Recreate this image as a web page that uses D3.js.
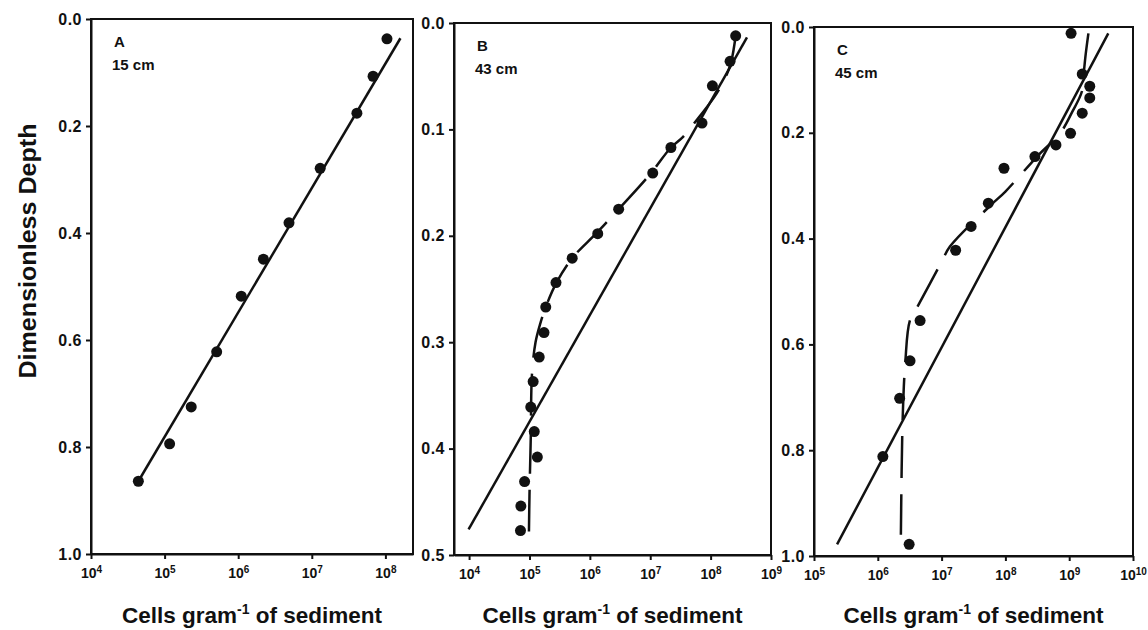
<!DOCTYPE html>
<html lang="en">
    <head>
        <meta charset="utf-8">
        <title>Cells per gram vs dimensionless depth</title>
        <script src="https://d3js.org/d3.v7.min.js"></script>
        <style>
            body { margin: 0; background: #fff; }
            text { font-family: "Liberation Sans", Arial, sans-serif; font-weight: bold; fill: #111; }
        </style>
    </head>
    <body>
        <script type="text/javascript">

            // panel A, 15 cm core
            var aCells = [1.05e8, 6.8e7, 4.1e7, 1.3e7, 4.9e6, 2.2e6, 1.1e6, 5.1e5, 2.3e5, 1.17e5, 4.4e4];
            var aDepth = [0.037, 0.107, 0.176, 0.279, 0.381, 0.449, 0.518, 0.622, 0.725, 0.794, 0.864];
            var aFitCells = [4.4e4, 1.6e8],
                aFitDepth = [0.864, 0.036];

            // panel B, 43 cm core
            var bCells = [2.6e8, 2.1e8, 1.07e8, 7.2e7, 2.2e7, 1.1e7, 3.0e6, 1.35e6, 5.1e5, 2.75e5,
                          1.86e5, 1.74e5, 1.45e5, 1.15e5, 1.05e5, 1.2e5, 1.35e5, 8.3e4, 7.2e4, 7.1e4];
            var bDepth = [0.012, 0.036, 0.059, 0.094, 0.117, 0.141, 0.175, 0.198, 0.221, 0.244,
                          0.267, 0.291, 0.314, 0.337, 0.361, 0.384, 0.408, 0.431, 0.454, 0.477];
            var bFitCells = [9.8e3, 4.0e8],
                bFitDepth = [0.476, 0.0135];
            var bCurveCells = [9.8e4, 1.0e5, 1.05e5, 1.1e5, 1.26e5, 1.5e5, 1.86e5, 2.8e5, 5.1e5, 1.26e6,
                               3.0e6, 1.0e7, 2.2e7, 3.5e7, 6.3e7, 1.17e8, 1.8e8, 2.2e8, 2.6e8];
            var bCurveDepth = [0.478, 0.444, 0.39, 0.33, 0.30, 0.283, 0.267, 0.244, 0.221, 0.198,
                               0.175, 0.142, 0.117, 0.107, 0.089, 0.069, 0.05, 0.036, 0.012];

            // panel C, 45 cm core
            var cCells = [1.07e9, 1.6e9, 2.1e9, 2.1e9, 1.6e9, 1.05e9, 6.2e8, 2.9e8, 9.5e7,
                          5.4e7, 2.9e7, 1.66e7, 4.6e6, 3.2e6, 2.2e6, 1.2e6, 3.1e6];
            var cDepth = [0.012, 0.089, 0.112, 0.134, 0.163, 0.201, 0.223, 0.245, 0.267,
                          0.333, 0.377, 0.422, 0.555, 0.631, 0.702, 0.812, 0.978];
            var cFitCells = [2.3e5, 4.1e9],
                cFitDepth = [0.978, 0.012];
            var cCurveCells = [2.0e9, 1.82e9, 1.7e9, 1.58e9, 1.12e9, 7.2e8, 3.3e8, 1.0e8, 6.0e7,
                               1.35e7, 1.0e7, 4.4e6, 3.2e6, 2.7e6, 2.45e6, 2.3e6];
            var cCurveDepth = [0.012, 0.05, 0.084, 0.122, 0.16, 0.201, 0.242, 0.311, 0.336,
                               0.415, 0.444, 0.524, 0.554, 0.633, 0.743, 0.96];

            var panels = [
                { letter: "A", core: "15 cm", left: 91, right: 413, top: 19, bottom: 554,
                  xDomain: [1e4, Math.pow(10, 8.375)], xPowers: [4, 5, 6, 7, 8],
                  yMax: 1, yTicks: [0, 0.2, 0.4, 0.6, 0.8, 1.0],
                  cells: aCells, depth: aDepth, fitCells: aFitCells, fitDepth: aFitDepth },
                { letter: "B", core: "43 cm", left: 454, right: 771, top: 23, bottom: 555,
                  xDomain: [Math.pow(10, 3.75), 1e9], xPowers: [4, 5, 6, 7, 8, 9],
                  yMax: 0.5, yTicks: [0, 0.1, 0.2, 0.3, 0.4, 0.5],
                  cells: bCells, depth: bDepth, fitCells: bFitCells, fitDepth: bFitDepth,
                  curveCells: bCurveCells, curveDepth: bCurveDepth },
                { letter: "C", core: "45 cm", left: 814, right: 1133, top: 27, bottom: 556,
                  xDomain: [1e5, 1e10], xPowers: [5, 6, 7, 8, 9, 10],
                  yMax: 1, yTicks: [0, 0.2, 0.4, 0.6, 0.8, 1.0],
                  cells: cCells, depth: cDepth, fitCells: cFitCells, fitDepth: cFitDepth,
                  curveCells: cCurveCells, curveDepth: cCurveDepth }
            ];

            var svg = d3.select("body")
                        .append("svg")
                        .attr("width", 1148)
                        .attr("height", 630);

            var ink = "#111";

            panels.forEach(function(p) {

                var xScale = d3.scaleLog()
                                .domain(p.xDomain)
                                .range([p.left, p.right]);

                var yScale = d3.scaleLinear()
                                .domain([0, p.yMax])
                                .range([p.top, p.bottom]);

                var g = svg.append("g");

                // frame
                g.append("rect")
                    .attr("x", p.left)
                    .attr("y", p.top)
                    .attr("width", p.right - p.left)
                    .attr("height", p.bottom - p.top)
                    .attr("fill", "none")
                    .attr("stroke", ink)
                    .attr("stroke-width", 2);

                // y axis
                var yAxis = g.append("g")
                    .attr("transform", `translate(${p.left},0)`)
                    .call(d3.axisLeft(yScale)
                        .tickValues(p.yTicks)
                        .tickFormat(d3.format(".1f"))
                        .tickSize(5)
                        .tickSizeOuter(0)
                        .tickPadding(4));
                yAxis.select(".domain").attr("stroke-width", 2).attr("stroke", ink);
                yAxis.selectAll("line").attr("stroke-width", 2).attr("stroke", ink);
                yAxis.selectAll("text")
                    .attr("font-size", 16)
                    .attr("letter-spacing", 0.5)
                    .attr("font-family", null)
                    .attr("fill", ink);

                // x axis, decade ticks as 10 with superscript power
                var xAxis = g.append("g")
                    .attr("transform", `translate(0,${p.bottom})`)
                    .call(d3.axisBottom(xScale)
                        .tickValues(p.xPowers.map(function(e) { return Math.pow(10, e); }))
                        .tickSize(5)
                        .tickSizeOuter(0));
                xAxis.select(".domain").attr("stroke-width", 2).attr("stroke", ink);
                xAxis.selectAll("line").attr("stroke-width", 2).attr("stroke", ink);
                xAxis.selectAll("text")
                    .attr("font-size", 14)
                    .attr("font-family", null)
                    .attr("fill", ink)
                    .attr("y", 24)
                    .attr("dy", 0)
                    .text(null)
                    .each(function(d, i) {
                        var t = d3.select(this);
                        t.append("tspan").text("10");
                        t.append("tspan")
                            .attr("font-size", 10)
                            .attr("dy", -5)
                            .text(p.xPowers[i]);
                    });

                // fitted straight line
                var line = d3.line()
                    .x(function(d) { return xScale(d[0]); })
                    .y(function(d) { return yScale(d[1]); });

                g.append("path")
                    .datum(d3.zip(p.fitCells, p.fitDepth))
                    .attr("d", line)
                    .attr("fill", "none")
                    .attr("stroke", ink)
                    .attr("stroke-width", 2.5);

                // long-dashed curve
                if (p.curveCells) {
                    g.append("path")
                        .datum(d3.zip(p.curveCells, p.curveDepth))
                        .attr("d", line.curve(d3.curveCatmullRom))
                        .attr("fill", "none")
                        .attr("stroke", ink)
                        .attr("stroke-width", 2.5)
                        .attr("stroke-dasharray", "42,16");
                }

                // data points
                g.selectAll("circle")
                    .data(d3.zip(p.cells, p.depth))
                    .enter()
                    .append("circle")
                    .attr("cx", function(d) { return xScale(d[0]); })
                    .attr("cy", function(d) { return yScale(d[1]); })
                    .attr("r", 5.5)
                    .attr("fill", ink);

                // panel letter and core length
                g.append("text")
                    .attr("x", p.left + 23)
                    .attr("y", p.top + 28)
                    .attr("font-size", 15)
                    .text(p.letter);
                g.append("text")
                    .attr("x", p.left + 21)
                    .attr("y", p.top + 51)
                    .attr("font-size", 15)
                    .text(p.core);

                // x title
                var xt = g.append("text")
                    .attr("x", (p.left + p.right) / 2)
                    .attr("y", 623)
                    .attr("text-anchor", "middle")
                    .attr("font-size", 22.5);
                xt.append("tspan").text("Cells gram");
                xt.append("tspan").attr("font-size", 14).attr("dy", -9).text("-1");
                xt.append("tspan").attr("dy", 9).text(" of sediment");
            });

            svg.append("text")
                .attr("transform", "translate(36,251) rotate(-90)")
                .attr("text-anchor", "middle")
                .attr("font-size", 23)
                .attr("textLength", 255)
                .attr("lengthAdjust", "spacingAndGlyphs")
                .text("Dimensionless Depth");

        </script>
    </body>
</html>
